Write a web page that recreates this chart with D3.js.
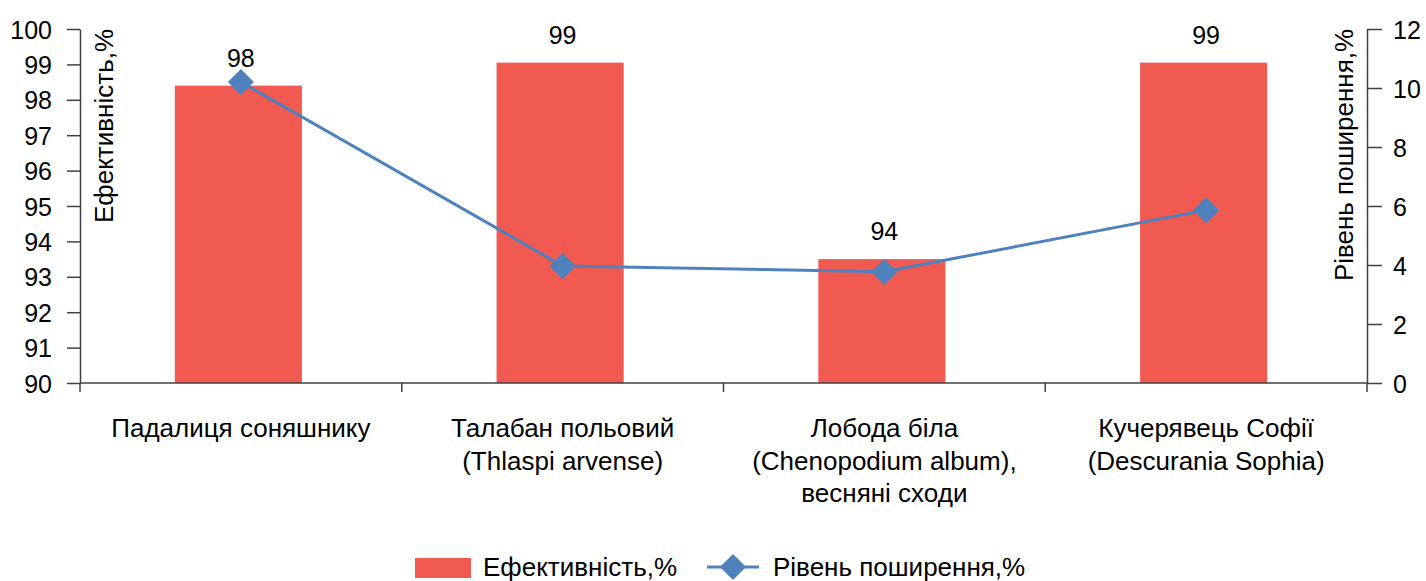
<!DOCTYPE html>
<html>
<head>
<meta charset="utf-8">
<script src="https://cdn.jsdelivr.net/npm/d3@7"></script>
<style>
  html, body { margin: 0; padding: 0; background: #fff; }
  svg text { font-family: "Liberation Sans", Arial, sans-serif; fill: #000; }
</style>
</head>
<body>
<svg id="chart" width="1426" height="581"></svg>
<script>
// Weed species (multi-line labels)
const categories = [
  ["Падалиця соняшнику"],
  ["Талабан польовий", "(Thlaspi arvense)"],
  ["Лобода біла", "(Chenopodium album),", "весняні сходи"],
  ["Кучерявець Софії", "(Descurania Sophia)"]
];
// Herbicide efficiency, % (left axis)
const efficiency = [98.4, 99.05, 93.5, 99.05];
// Weed spread level, % (right axis)
const spread = [10.2, 3.97, 3.77, 5.86];
const leftTicks = [90, 91, 92, 93, 94, 95, 96, 97, 98, 99, 100];
const rightTicks = [0, 2, 4, 6, 8, 10, 12];
const leftTitle = "Ефективність,%";
const rightTitle = "Рівень поширення,%";

const barColor = "#F05A50";
const lineColor = "#4F81BD";
const axisColor = "#404040";
const numFont = "25px";
const textFont = "26px";

const svg = d3.select("#chart");
const plotLeft = 80, plotRight = 1367, plotTop = 29, plotBottom = 383;

const xc = d3.scaleBand().domain(d3.range(categories.length)).range([plotLeft, plotRight]);
const x = d3.scaleBand().domain(d3.range(categories.length)).range([plotLeft - 2.5, plotRight - 2.5])
  .paddingInner(0.605).paddingOuter(0.3025);
const yL = d3.scaleLinear().domain([90, 100]).range([plotBottom, plotTop]);
const yR = d3.scaleLinear().domain([0, 12]).range([plotBottom, plotTop]);
const cx = i => xc(i) + xc.bandwidth() / 2;

// Bars
svg.append("g").selectAll("rect").data(efficiency).join("rect")
  .attr("x", (d, i) => x(i))
  .attr("width", x.bandwidth())
  .attr("y", d => yL(d))
  .attr("height", d => yL(90) - yL(d))
  .attr("fill", barColor);

// Bar value labels
svg.append("g").selectAll("text").data(efficiency).join("text")
  .attr("x", (d, i) => cx(i))
  .attr("y", d => yL(d) - 19)
  .attr("text-anchor", "middle")
  .style("font-size", numFont)
  .text(d => Math.round(d));

// Axes
function styleAxis(g) {
  g.selectAll("path, line").attr("stroke", axisColor).attr("stroke-width", 1.5);
  g.selectAll("text").style("font-size", numFont).attr("fill", "#000");
}
svg.append("g").attr("transform", `translate(${plotLeft},0)`)
  .call(d3.axisLeft(yL).tickValues(leftTicks).tickSize(13).tickSizeOuter(0).tickPadding(15))
  .call(styleAxis)
  .selectAll("text").attr("dy", "0.36em");
svg.append("g").attr("transform", `translate(${plotRight},0)`)
  .call(d3.axisRight(yR).tickValues(rightTicks).tickSize(15).tickSizeOuter(0).tickPadding(11))
  .call(styleAxis)
  .selectAll("text").attr("dy", "0.36em");

// Category axis: ticks on band boundaries
const xAxis = svg.append("g");
xAxis.append("line").attr("x1", plotLeft).attr("x2", plotRight).attr("y1", plotBottom).attr("y2", plotBottom)
  .attr("stroke", axisColor).attr("stroke-width", 1.5);
xAxis.selectAll("line.tick").data(d3.range(categories.length + 1)).join("line")
  .attr("class", "tick")
  .attr("x1", i => plotLeft + i * xc.bandwidth()).attr("x2", i => plotLeft + i * xc.bandwidth())
  .attr("y1", plotBottom).attr("y2", plotBottom + 9)
  .attr("stroke", axisColor).attr("stroke-width", 1.5);
const catLabels = xAxis.selectAll("text").data(categories).join("text")
  .attr("text-anchor", "middle")
  .attr("transform", (d, i) => `translate(${cx(i)},437)`)
  .style("font-size", textFont);
catLabels.selectAll("tspan").data(d => d).join("tspan")
  .attr("x", 0).attr("y", (d, j) => j * 32.5).text(d => d);

// Axis titles
svg.append("text")
  .attr("transform", `translate(113,126) rotate(-90)`)
  .attr("text-anchor", "middle").style("font-size", textFont).text(leftTitle);
svg.append("text")
  .attr("transform", `translate(1353,155) rotate(-90)`)
  .attr("text-anchor", "middle").style("font-size", textFont).text(rightTitle);

// Spread line with diamond markers
const line = d3.line().x((d, i) => cx(i)).y(d => yR(d));
svg.append("path").datum(spread)
  .attr("d", line).attr("fill", "none").attr("stroke", lineColor).attr("stroke-width", 3);
const diamond = d3.symbol().type(d3.symbolSquare).size(340);
svg.append("g").selectAll("path").data(spread).join("path")
  .attr("d", diamond)
  .attr("transform", (d, i) => `translate(${cx(i)},${yR(d)}) rotate(45)`)
  .attr("fill", lineColor);

// Legend
const lg = svg.append("g");
lg.append("rect").attr("x", 415).attr("y", 558).attr("width", 56).attr("height", 20).attr("fill", barColor);
lg.append("text").attr("x", 483).attr("y", 576).style("font-size", textFont).text(leftTitle);
lg.append("line").attr("x1", 707).attr("x2", 759).attr("y1", 567).attr("y2", 567)
  .attr("stroke", lineColor).attr("stroke-width", 3);
lg.append("path").attr("d", diamond).attr("transform", "translate(733,567) rotate(45)").attr("fill", lineColor);
lg.append("text").attr("x", 773).attr("y", 576).style("font-size", textFont).text(rightTitle);
</script>
</body>
</html>
